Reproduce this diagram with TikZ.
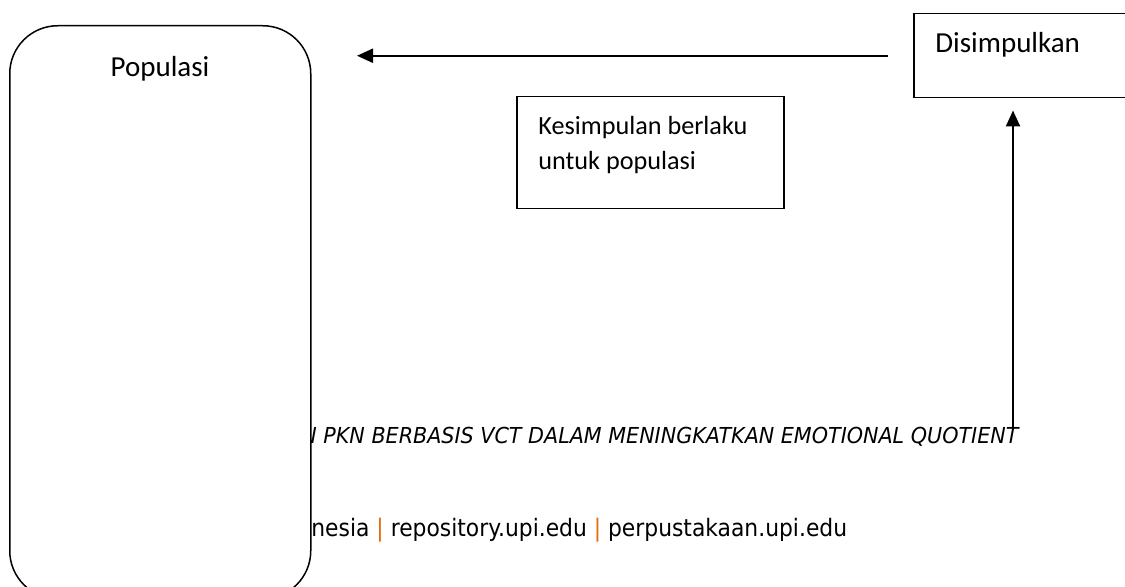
\documentclass[tikz,border=0pt]{standalone}
\usepackage{fontspec}
\setmainfont{Carlito}
\newfontfamily\footfont{DejaVu Sans}
\usetikzlibrary{positioning}
\usetikzlibrary{arrows.meta}
\definecolor{barorange}{RGB}{228,108,10}

\begin{document}
\begin{tikzpicture}[x=0.5pt, y=0.5pt,
    box/.style={rectangle, draw, line width=0.75pt, fill=white, inner sep=0pt},
    txt/.style={anchor=base west, inner sep=0pt, font=\fontsize{14.5}{17.5}\selectfont, align=left},
    foot/.style={anchor=base west, inner sep=0pt},
    arr/.style={-{Triangle[length=8pt, width=7pt]}, line width=1.15pt}
]
\useasboundingbox (0,0) rectangle (1125,-587);
\clip (0,0) rectangle (1125,-587);

% Footer (partly hidden by the population box)
\node[foot, font=\footfont\itshape\fontsize{11}{13}\selectfont] (title) at (301,-444) {\scalebox{0.94}[1]{N PKN BERBASIS VCT DALAM MENINGKATKAN EMOTIONAL QUOTIENT}};
\node[foot, font=\footfont\fontsize{12}{14}\selectfont] (repo) at (311,-537) {\scalebox{0.91}[1]{nesia {\color{barorange}|} repository.upi.edu {\color{barorange}|} perpustakaan.upi.edu}};

% Boxes
\node[box, rounded corners=24pt, minimum width=150.5pt, minimum height=286.5pt, anchor=north west] (pop) at (9,-25) {};
\node[txt, anchor=base] (popTxt) at (160,-77) {Populasi};

\node[box, minimum width=111pt, minimum height=42pt, anchor=north west] (simp) at (913,-13) {};
\node[txt] (simpTxt) at ([shift={(22,-40)}]simp.north west) {Disimpulkan};

\node[box, minimum width=133.5pt, minimum height=56pt, anchor=north west] (valid) at (516,-96) {};
\node[txt, font=\fontsize{13.1}{17.5}\selectfont] (validTxt) at ([shift={(22,-74)}]valid.north west) {Kesimpulan berlaku\\untuk populasi};

% Arrows
\coordinate (popEdge) at (357,-55);
\coordinate (upStart) at (1013,-427);
\draw[arr] ([shift={(-25,0)}]simp.west) -- (simp.west -| popEdge);
\draw[arr] (upStart) -- ([shift={(0,-12)}]upStart |- simp.south);

\end{tikzpicture}
\end{document}
